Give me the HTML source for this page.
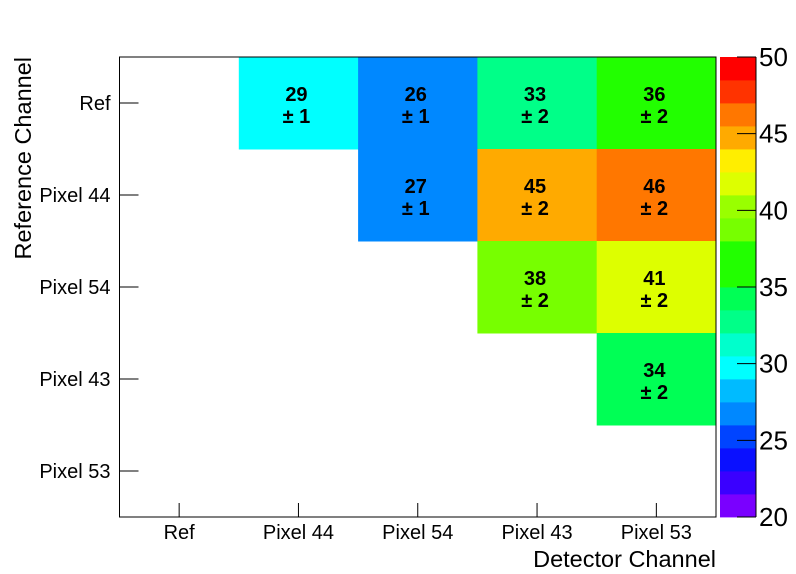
<!DOCTYPE html>
<html><head><meta charset="utf-8"><style>body{margin:0;background:#fff}svg{display:block;font-family:"Liberation Sans",Arial,sans-serif}</style></head>
<body>
<svg id="chart" width="796" height="574" viewBox="0 0 796 574"></svg>
<script>
const xCategories=["Ref","Pixel 44","Pixel 54","Pixel 43","Pixel 53"];
const yCategories=["Ref","Pixel 44","Pixel 54","Pixel 43","Pixel 53"];
const cellX=[1,2,3,4,2,3,4,3,4,4];
const cellY=[0,0,0,0,1,1,1,2,2,3];
const cellValues=[29,26,33,36,27,45,46,38,41,34];
const cellErrors=[1,1,2,2,1,2,2,2,2,2];
const zTicks=[20,25,30,35,40,45,50];
const paletteColors=["#7a00ff","#3a00ff","#0a10ff","#0044ff","#0088ff","#00bbff","#00ffff","#00ffcc","#00ff88","#00ff55","#22ff00","#22ff00","#77ff00","#99ff00","#ddff00","#ffee00","#ffaa00","#ff7700","#ff3300","#ff0000"];
const zMin=20,zMax=50;
const L=119.5,R=716,T=57,B=517,PX0=720,PX1=756;
const svg=document.getElementById('chart');const NS="http://www.w3.org/2000/svg";
function el(t,a){const e=document.createElementNS(NS,t);for(const k in a)e.setAttribute(k,a[k]);svg.appendChild(e);return e;}
const cw=(R-L)/xCategories.length,ch=(B-T)/yCategories.length;
function xs(i){return L+i*cw;} function ys(j){return T+j*ch;}
function zs(v){return B-(v-zMin)/(zMax-zMin)*(B-T);}
function colorOf(v){let k=Math.floor((v-zMin)/(zMax-zMin)*paletteColors.length);k=Math.max(0,Math.min(paletteColors.length-1,k));return paletteColors[k];}
cellValues.forEach((v,i)=>{
 const x=xs(cellX[i]),y=ys(cellY[i]);
 const r=el('rect',{x:x,y:y,width:cw+0.5,height:ch+0.5,fill:colorOf(v)});
 
 
 const t1=el('text',{x:x+cw/2-2,y:y+44,'text-anchor':'middle','font-size':20,'font-weight':'bold'});t1.textContent=v;
 
 
 const t2=el('text',{x:x+cw/2-2,y:y+66,'text-anchor':'middle','font-size':20,'font-weight':'bold'});t2.textContent="± "+cellErrors[i];
 
 
});
const fr=el('rect',{x:L,y:T,width:R-L,height:B-T,fill:'none',stroke:'#000','stroke-width':1});


xCategories.forEach((c,i)=>{
 const cx=xs(i)+cw/2;
 el('line',{x1:cx,y1:B,x2:cx,y2:B-14,stroke:'#000'});
 const t=el('text',{x:cx,y:B+22,'text-anchor':'middle','font-size':20});t.textContent=c;
 
 
});
yCategories.forEach((c,j)=>{
 const cy=ys(j)+ch/2;
 el('line',{x1:L,y1:cy,x2:L+19,y2:cy,stroke:'#000'});
 const t=el('text',{x:L-9,y:cy+7,'text-anchor':'end','font-size':20});t.textContent=c;
 
 
});
const xt=el('text',{x:R,y:567,'text-anchor':'end','font-size':23.5});xt.textContent="Detector Channel";


const yt=el('text',{x:0,y:0,'text-anchor':'end','font-size':23.5,transform:'translate(31,57) rotate(-90)'});yt.textContent="Reference Channel";


const bh=(B-T)/paletteColors.length;
paletteColors.forEach((c,k)=>{
 const p=el('rect',{x:PX0,y:B-(k+1)*bh,width:PX1-PX0,height:bh+0.4,fill:c});
 
 
});
el('line',{x1:PX1,y1:T,x2:PX1,y2:B,stroke:'#000'});
zTicks.forEach(v=>{
 const y=zs(v);
 el('line',{x1:PX1-19,y1:y,x2:PX1,y2:y,stroke:'#000'});
 const t=el('text',{x:PX1+3,y:y+9,'font-size':26});t.textContent=v;
 
 
});
</script>
</body></html>
